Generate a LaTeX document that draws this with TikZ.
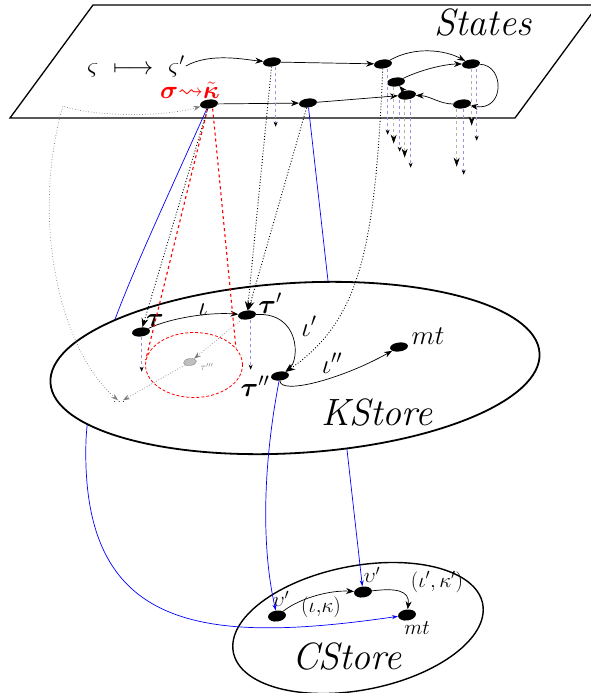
\RequirePackage{fix-cm}
\documentclass[tikz,border=0pt]{standalone}
\usepackage{amsmath}
\usepackage{amssymb}
\usepackage{xcolor}
\usepackage{tikz}
\usetikzlibrary{shapes.geometric}
\usetikzlibrary {arrows.meta}
\definecolor{lavender}{RGB}{150,150,230}
\tikzset{point/.style={
    shape=ellipse, fill=black, inner sep=0pt, rotate=8,
    minimum width=18pt, minimum height=9pt
  },
  ghostpoint/.style={
    shape=ellipse, draw=gray, fill=gray!50, inner sep=0pt, rotate=8,
    minimum width=13pt, minimum height=7pt
  },
  store/.style={
    shape=ellipse, draw, inner sep=0pt
  },
  big/.style={
    font=\fontsize{38}{40}\selectfont\itshape
  },
  small label/.style={
    font=\fontsize{21}{23}\selectfont
  }
}

\begin{document}
\begin{tikzpicture}[x=1pt,y=-1pt]
        \tikzstyle{every node}=[font=\fontsize{27}{29}\selectfont, inner sep=1pt]
        \tikzset{edge/.style = {->,> = {Stealth[length=8pt,width=6pt]}, line width=0.7pt}}
        \tikzset{refine/.style = {-{Stealth[length=9pt,width=7pt]}, dotted, line width=0.9pt}}
        \tikzset{proj/.style = {-{Stealth[length=5pt,width=4pt,color=black]}, dashed, lavender, line width=0.6pt}}
        \tikzset{projg/.style = {-{Stealth[length=9pt,width=6pt,color=black]}, dashed, gray!60, line width=0.6pt}}
        \tikzset{ghost/.style = {-{Stealth[length=7pt,width=5pt]}, dotted, gray, line width=0.7pt}}
        \tikzset{flow/.style = {-{Stealth[length=6pt,width=4pt]}, blue, line width=0.7pt}}
        \tikzset{cone/.style = {red, dashed, line width=1.1pt}}
        \useasboundingbox (0,0) rectangle (590,693);
        % state space
        \draw[line width=1.3pt] (10,118) -- (515,118) -- (598,5) -- (93,5) -- cycle;
        \node[big] (states) at (483,23) {States};
        \node[font=\fontsize{25}{27}\selectfont] (sig) at (136,66) {$\varsigma\hspace{8pt}\longmapsto\hspace{8pt}\varsigma'$};
        \node[text=red, font=\fontsize{25}{27}\selectfont] (sk) at (190,90) {$\boldsymbol{\sigma}{\leadsto}\tilde{\boldsymbol{\kappa}}$};
        \node[point] (s1) at (272,62) {};
        \node[point] (s2) at (383,64) {};
        \node[point] (s3) at (471,64) {};
        \node[point] (s4) at (396,82) {};
        \node[point] (s5) at (407,95) {};
        \node[point] (s6) at (462,104) {};
        \node[point] (s7) at (209,104) {};
        \node[point] (s8) at (308,103) {};
        \draw[edge] (sig.east) .. controls +(25,-14) and +(-25,-2) .. (s1);
        \draw[edge] (s1) -- (s2);
        \draw[edge] (s2) .. controls (415,46) and (445,50) .. (s3);
        \draw[edge] (s4) .. controls (420,70) and (445,64) .. (s3);
        \draw[edge] (s5) -- (s4);
        \draw[edge] (s3) .. controls (505,65) and (505,112) .. (s6);
        \draw[edge] (s6) .. controls (440,104) and (430,96) .. (s5);
        \draw[edge] (s7) -- (s8);
        \draw[edge] (s8) -- (s5);
        % projections
        \foreach \v/\dx/\l/\s in {s1/3/60/proj, s2/4/66/proj, s4/-3/57/projg,
            s5/-8/52/proj, s5/-3/58/projg, s5/3/68/proj,
            s6/-6/58/projg, s6/1/66/proj, s3/0/57/projg, s3/5/72/proj}
          \draw[\s] ([xshift=\dx pt]\v.south) -- ++(0,\l);
        % concrete store
        \node[store, line width=1.4pt, minimum width=254pt, minimum height=124pt, rotate=11] (cstore) at (358,628) {};
        \node[big] (cname) at (347,657) {CStore};
        \node[point, minimum height=11pt] (c1) at (277,616) {};
        \node[point, minimum height=11pt] (c2) at (363,592) {};
        \node[point, minimum height=11pt] (c3) at (407,615) {};
        \node[small label] (lc1) at (281,599) {$\upsilon'$};
        \node[small label] (lc2) at (372,575) {$\upsilon'$};
        \node[small label] (lc3) at (417,628) {$mt$};
        \draw[edge] (c1) .. controls (300,598) and (330,590) .. (c2);
        \node[small label] (li1) at (321,607) {$(\iota,\!\kappa)$};
        \draw[edge] (c2) .. controls (395,588) and (410,590) .. (c3);
        \node[small label] (li2) at (437,582) {$(\iota',\kappa')$};
        % flows hidden behind the abstract store
        \draw[flow] (s7) .. controls (130,280) and (90,360) .. (86,440) .. controls (80,630) and (200,645) .. (c3);
        \draw[flow] (s8) -- (c2);
        % abstract store
        \node[store, fill=white, line width=1.8pt, minimum width=490pt, minimum height=170pt, rotate=3.5] (kstore) at (295,368) {};
        \node[big] (kname) at (377,413) {KStore};
        \node[point] (k1) at (141,332) {};
        \node[point] (k2) at (247,315) {};
        \node[point] (k3) at (280,376) {};
        \node[point] (k4) at (399,347) {};
        \node[ghostpoint] (k5) at (190,362) {};
        \node[font=\normalsize] (k6) at (120,402) {$\dots$};
        \node (lk1) at (155,320) {$\boldsymbol{\tau}$};
        \node (lk2) at (270,303) {$\boldsymbol{\tau}'$};
        \node (lk3) at (255,386) {$\boldsymbol{\tau}''$};
        \node (lk4) at (428,336) {$mt$};
        \node[text=gray, font=\normalsize] (lk5) at (207,367) {$\tau'''$};
        \node[shape=ellipse, draw=red, densely dashed, line width=0.8pt, minimum width=97pt, minimum height=65pt] (ring) at (194,365) {};
        \draw[edge] (k1) .. controls (170,318) and (210,312) .. (k2);
        \node (lj1) at (203,310) {$\iota$};
        \draw[edge] (k2) .. controls (300,312) and (300,360) .. (k3);
        \node (lj2) at (309,326) {$\iota'$};
        \draw[edge] (k3) .. controls (280,395) and (340,380) .. (k4);
        \node (lj3) at (332,363) {$\iota''$};
        % refinements
        \draw[cone] ([xshift=-2pt]s7.south) -- (ring.174);
        \draw[cone] ([xshift=3pt]s7.south) -- (ring.22);
        \draw[refine] (s7) -- (k1);
        \draw[refine] (s1) -- (k2);
        \draw[refine] (s8) -- (k2);
        \draw[refine] (s2) .. controls (375,250) and (360,320) .. (k3);
        \draw[proj] (k1.south) -- ++(0,35);
        \draw[proj] ([xshift=3pt]k2.south) -- ++(0,50);
        \draw[ghost] (k2) -- (k5);
        \draw[ghost] (k5) -- (k6);
        \draw[ghost, {Stealth[length=7pt,width=5pt]}-{Stealth[length=7pt,width=5pt]}] (k6) .. controls (60,350) and (30,220) .. (63,106) .. controls (90,116) and (160,118) .. (s7);
        \draw[flow] (k3) .. controls (262,470) and (262,550) .. (c1);
\end{tikzpicture}
\end{document}
